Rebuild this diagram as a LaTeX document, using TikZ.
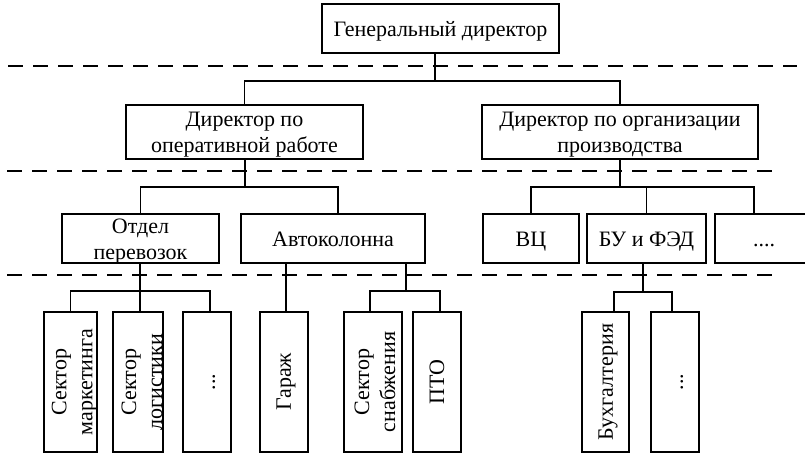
\documentclass[tikz,border=0pt]{standalone}
\usepackage{fontspec}
\setmainfont{Liberation Serif}
\begin{document}
\begin{tikzpicture}[x=1pt,y=-1pt,
  every node/.style={font=\fontsize{22}{26}\selectfont},
  box/.style={draw, line width=1.8pt, inner sep=0pt},
  vbox/.style={box, minimum height=140pt},
  mtext/.style={align=center, inner sep=0pt, yshift=-3pt},
  stext/.style={inner sep=0pt, text height=15pt, text depth=5pt, yshift=-3.5pt},
  vtext/.style={rotate=90, align=center, inner sep=0pt},
  link/.style={line width=1.8pt},
  level/.style={line width=1.5pt, dash pattern=on 15pt off 10pt}]
\useasboundingbox (0,0) rectangle (805,454);

% management levels
\draw[level] (8,66) -- (797,66);
\draw[level] (7,171) -- (773,171);
\draw[level] (7,275) -- (773,275);

% top level
\node[box, minimum width=237pt, minimum height=49pt] (gd) at (440.5,28.5) {};

% deputy directors
\node[box, minimum width=237pt, minimum height=54pt] (dop) at (244.5,132) {};
\node[box, minimum width=276pt, minimum height=54pt] (dorg) at (620,132) {};

% departments
\node[box, minimum width=157pt, minimum height=49pt] (otd) at (140.5,238.5) {};
\node[box, minimum width=184pt, minimum height=49pt] (avt) at (333,238.5) {};
\node[box, minimum width=96pt, minimum height=49pt] (vc) at (531,238.5) {};
\node[box, minimum width=119pt, minimum height=49pt] (bu) at (646.5,238.5) {};
\node[box, minimum width=98pt, minimum height=49pt] (etc) at (764,238.5) {};

% sectors
\node[vbox, minimum width=53pt] (smk) at (70.5,382) {};
\node[vbox, minimum width=50pt] (slg) at (138,382) {};
\node[vbox, minimum width=48pt] (sdt) at (207,382) {};
\node[vbox, minimum width=48pt] (gar) at (284,382) {};
\node[vbox, minimum width=58pt] (ssn) at (373,382) {};
\node[vbox, minimum width=48pt] (pto) at (437,382) {};
\node[vbox, minimum width=47pt] (bux) at (605.5,382) {};
\node[vbox, minimum width=48pt] (bdt) at (675,382) {};

% labels of the horizontal boxes
\node[stext] (gdt) at (gd.center) {Генеральный директор};
\node[mtext] (dopt) at (dop.center) {Директор по\\оперативной работе};
\node[mtext] (dorgt) at (dorg.center) {Директор по организации\\производства};
\node[mtext] (otdt) at (otd.center) {Отдел\\перевозок};
\node[stext] (avtt) at (avt.center) {Автоколонна};
\node[stext] (vct) at (vc.center) {ВЦ};
\node[stext] (but) at (bu.center) {БУ и ФЭД};
\node[stext] (etct) at (etc.center) {....};

% labels of the upright boxes
\node[vtext] (smkt) at ([xshift=4pt]smk.center) {Сектор\\маркетинга};
\node[vtext] (slgt) at ([xshift=4pt]slg.center) {Сектор\\логистики};
\node[vtext] (sdtt) at ([xshift=7pt]sdt.center) {...};
\node[vtext] (gart) at ([xshift=2pt]gar.center) {Гараж};
\node[vtext] (ssnt) at ([xshift=2pt]ssn.center) {Сектор\\снабжения};
\node[vtext] (ptot) at (pto.center) {ПТО};
\node[vtext] (buxt) at ([xshift=2.5pt]bux.center) {Бухгалтерия};
\node[vtext] (bdtt) at ([xshift=7pt]bdt.center) {...};

% bus junctions
\coordinate (j1) at (435,81);
\coordinate (j2) at (245,187);
\coordinate (j3) at (620,187);
\coordinate (j4) at (140,291);
\coordinate (j5) at (406,291);
\coordinate (j6) at (643,292);

% connectors
\draw[link] (j1) -- (j1 |- gd.south);
\draw[link] (dop.north) |- (j1) -| (dorg.north);

\draw[link] (j2) -- (j2 |- dop.south);
\draw[link] (otd.north) |- (j2) -| ([xshift=5pt]avt.north);

\draw[link] (j3) -- (j3 |- dorg.south);
\draw[link] (vc.north) |- (j3) -| ([xshift=-10pt]etc.north);
\draw[link] (j3 -| bu.north) -- (bu.north);

\draw[link] (j4) -- (j4 |- otd.south);
\draw[link] (smk.north) |- (j4) -| ([xshift=3pt]sdt.north);
\draw[link] (j4) -- (j4 |- slg.north);

\draw[link] ([xshift=2pt]gar.north) -- ([xshift=2pt]gar.north |- avt.south);

\draw[link] (j5) -- (j5 |- avt.south);
\draw[link] ([xshift=-3pt]ssn.north) |- (j5) -| ([xshift=3pt]pto.north);

\draw[link] (j6) -- (j6 |- bu.south);
\draw[link] ([xshift=8.5pt]bux.north) |- (j6) -| ([xshift=-3pt]bdt.north);
\end{tikzpicture}
\end{document}
